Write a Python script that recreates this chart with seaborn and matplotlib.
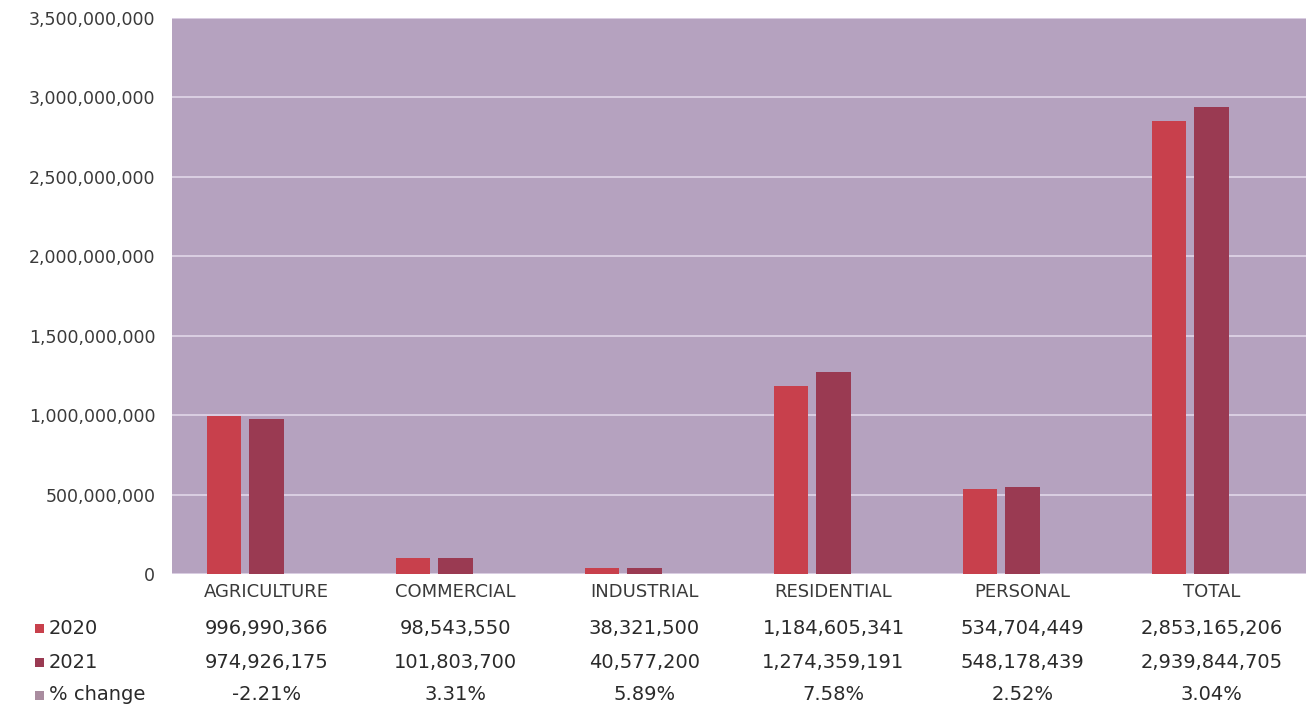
import matplotlib
matplotlib.use("Agg")
import matplotlib.pyplot as plt
import matplotlib.transforms as mtransforms
from matplotlib.patches import Rectangle
from matplotlib.ticker import FuncFormatter
import pandas as pd
import seaborn as sns

# Premium totals by line of business
categories = ["AGRICULTURE", "COMMERCIAL", "INDUSTRIAL", "RESIDENTIAL", "PERSONAL", "TOTAL"]
values_2020 = [996990366, 98543550, 38321500, 1184605341, 534704449, 2853165206]
values_2021 = [974926175, 101803700, 40577200, 1274359191, 548178439, 2939844705]
pct_change = [-2.21, 3.31, 5.89, 7.58, 2.52, 3.04]
series_names = ["2020", "2021", "% change"]
y_ticks = [0, 500000000, 1000000000, 1500000000, 2000000000, 2500000000, 3000000000, 3500000000]

series_colors = ["#c8404c", "#9a3a52", "#a98c9f"]
plot_bg = "#b5a2bf"
grid_col = "#dbcfe2"
text_col = "#3a3a3a"

rows = []
for i, cat in enumerate(categories):
    rows.append({"category": cat, "series": "2020", "value": values_2020[i]})
    rows.append({"category": cat, "series": "2021", "value": values_2021[i]})
    rows.append({"category": cat, "series": "% change", "value": pct_change[i] / 100.0})
df = pd.DataFrame(rows)

sns.set_theme(style="white")
plt.rcParams["font.family"] = ["DejaVu Sans"]

W, H = 1312, 715
fig = plt.figure(figsize=(W / 100, H / 100), dpi=100)
ax = fig.add_axes([172 / W, 1 - 574 / H, (1306 - 172) / W, (574 - 18) / H])
ax.set_facecolor(plot_bg)

sns.barplot(
    data=df, x="category", y="value", hue="series",
    order=categories, hue_order=series_names,
    palette=series_colors, width=0.667, gap=0.19,
    saturation=1, errorbar=None, legend=False, linewidth=0, ax=ax,
)

ax.set_ylim(0, 3500000000)
ax.set_xlim(-0.5, len(categories) - 0.5)
ax.set_yticks(y_ticks)
ax.yaxis.set_major_formatter(FuncFormatter(lambda v, _: f"{int(v):,}"))
ax.tick_params(axis="y", length=0, pad=12, labelsize=12.5, labelcolor=text_col)
ax.set_xticks([])
ax.set_xlabel("")
ax.set_ylabel("")
ax.grid(axis="y", color=grid_col, linewidth=1.4)
ax.set_axisbelow(True)
for s in ax.spines.values():
    s.set_visible(False)

# Data table under the bars
trans = mtransforms.blended_transform_factory(ax.transData, fig.transFigure)


def fy(py):
    return 1 - py / H


for i, cat in enumerate(categories):
    ax.text(i, fy(592), cat, transform=trans, ha="center", va="center",
            fontsize=13, color="#3a3a3a")
    ax.text(i, fy(628), f"{values_2020[i]:,}", transform=trans, ha="center",
            va="center", fontsize=14, color="#2a2a2a")
    ax.text(i, fy(662), f"{values_2021[i]:,}", transform=trans, ha="center",
            va="center", fontsize=14, color="#2a2a2a")
    ax.text(i, fy(695), f"{pct_change[i]:.2f}%", transform=trans, ha="center",
            va="center", fontsize=14, color="#2a2a2a")

for name, color, py in zip(series_names, series_colors, [628, 662, 695]):
    fig.patches.append(Rectangle((35 / W, fy(py + 4.5)), 9 / W, 9 / H,
                                 transform=fig.transFigure, facecolor=color,
                                 edgecolor="none"))
    fig.text(49 / W, fy(py), name, ha="left", va="center", fontsize=14,
             color="#2a2a2a")

fig.savefig("out.png", dpi=100, facecolor="white")
